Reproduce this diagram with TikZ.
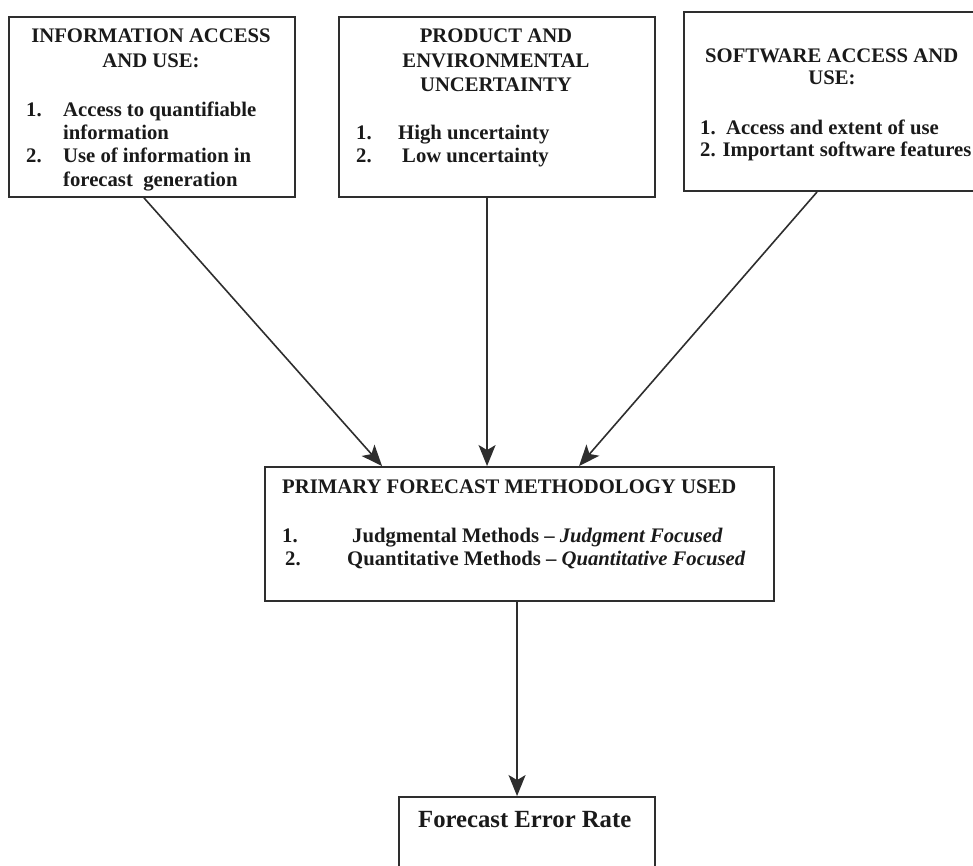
\documentclass[tikz,border=0pt]{standalone}
\usepackage{fontspec}
\setmainfont{Liberation Serif}
\usetikzlibrary{arrows.meta}
\definecolor{ink}{HTML}{1A1A1A}
\definecolor{rule}{HTML}{2E2E2E}
\tikzset{
  box/.style={draw=rule, line width=1.9pt, inner sep=0pt, fill=none},
  txt/.style={inner sep=0pt, text=ink, font=\fontsize{20.7}{24}\selectfont\bfseries},
  lefttxt/.style={txt, anchor=base west},
  midtxt/.style={txt, anchor=base},
  arr/.style={draw=rule, line width=1.6pt, -{Stealth[length=21pt,width=17pt,inset=5pt]}}
}
\begin{document}
\begin{tikzpicture}[x=1pt, y=-1pt]
\useasboundingbox (0,0) rectangle (973,866);
\clip (0,0) rectangle (973,866);

% frames
\node[box, minimum width=286pt, minimum height=180pt] (info) at (152,107) {};
\node[box, minimum width=316pt, minimum height=180pt] (unc) at (497,107) {};
\node[box, minimum width=301pt, minimum height=179pt] (soft) at (834.5,101.5) {};
\node[box, minimum width=509pt, minimum height=134pt] (meth) at (519.5,534) {};
\node[box, minimum width=256pt, minimum height=103pt] (err) at (527,848.5) {};

% information access and use
\node[midtxt] (t1a) at (151,43) {INFORMATION ACCESS};
\node[midtxt] (t1b) at (151,68) {AND USE:};
\node[lefttxt] (n1a) at (26,117) {1.};
\node[lefttxt] (i1a) at (63,117) {Access to quantifiable};
\node[lefttxt] (i1b) at (63,140) {information};
\node[lefttxt] (n1b) at (26,163) {2.};
\node[lefttxt] (i1c) at (63,163) {Use of information in};
\node[lefttxt] (i1d) at (63,187) {forecast\ \ generation};

% product and environmental uncertainty
\node[midtxt] (t2a) at (496,43) {PRODUCT AND};
\node[midtxt] (t2b) at (496,68) {ENVIRONMENTAL};
\node[midtxt] (t2c) at (496,92) {UNCERTAINTY};
\node[lefttxt] (n2a) at (356,140) {1.};
\node[lefttxt] (i2a) at (398,140) {High uncertainty};
\node[lefttxt] (n2b) at (356,163) {2.};
\node[lefttxt] (i2b) at (402,163) {Low uncertainty};

% software access and use
\node[lefttxt] (t3a) at (705,63) {SOFTWARE ACCESS AND};
\node[midtxt] (t3b) at (832,85) {USE:};
\node[lefttxt] (i3a) at (700,135) {1.\ \ Access and extent of use};
\node[lefttxt] (i3b) at (700,157) {2. Important software features};

% primary forecast methodology
\node[lefttxt] (t4) at (282,493) {PRIMARY FORECAST METHODOLOGY USED};
\node[lefttxt] (n4a) at (282,542) {1.};
\node[lefttxt] (i4a) at (352,542) {Judgmental Methods -- \textit{Judgment Focused}};
\node[lefttxt] (n4b) at (285,565) {2.};
\node[lefttxt] (i4b) at (347,565) {Quantitative Methods -- \textit{Quantitative Focused}};

% forecast error rate
\node[txt, anchor=base west, font=\fontsize{24.7}{28}\selectfont\bfseries] (t5) at (418,827) {Forecast Error Rate};

% connectors
\draw[arr] ([xshift=136pt]info.south west) -- ([xshift=118pt]meth.north west);
\draw[arr] ([xshift=149pt]unc.south west) -- ([xshift=223pt]meth.north west);
\draw[arr] ([xshift=134pt]soft.south west) -- ([xshift=315pt]meth.north west);
\draw[arr] ([xshift=253pt]meth.south west) -- ([xshift=119pt]err.north west);
\end{tikzpicture}
\end{document}
